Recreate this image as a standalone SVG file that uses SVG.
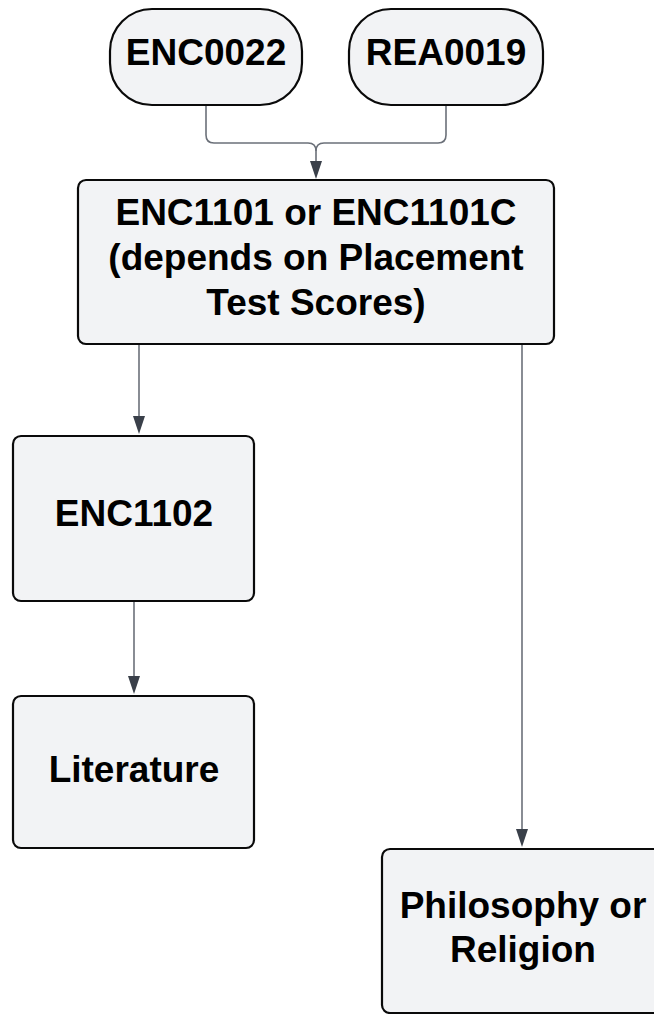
<svg xmlns="http://www.w3.org/2000/svg" width="654" height="1014" viewBox="0 0 654 1014">
<style>
.node{fill:#f2f3f5;stroke:#0a0a0a;stroke-width:2.2}
.lbl{font-family:"Liberation Sans",Arial,sans-serif;font-weight:bold;font-size:37px;fill:#000;text-anchor:middle}
.conn{fill:none;stroke:#6b7079;stroke-width:1.6}
.head{fill:#3a404a}
</style>
<rect width="654" height="1014" fill="#fff"/>
<g id="connectors">
<path class="conn" d="M206,105 V135 Q206,143 214,143 H308 Q316,143 316,151 V162"/>
<path class="conn" d="M446,105 V135 Q446,143 438,143 H324 Q316,143 316,151"/>
<path class="conn" d="M139,345 V418"/>
<path class="conn" d="M134,601 V678"/>
<path class="conn" d="M522,345 V831"/>
<path class="head" d="M310,161 L322,161 L316,179 Z"/>
<path class="head" d="M133,416 L145,416 L139,434 Z"/>
<path class="head" d="M128,676 L140,676 L134,694 Z"/>
<path class="head" d="M516,829 L528,829 L522,847 Z"/>
</g>
<g id="enc0022">
<rect class="node" x="110" y="9" width="192" height="96" rx="42" ry="42"/>
<text class="lbl" x="206" y="65">ENC0022</text>
</g>
<g id="rea0019">
<rect class="node" x="349" y="9" width="194" height="96" rx="42" ry="42"/>
<text class="lbl" x="446" y="65">REA0019</text>
</g>
<g id="enc1101">
<rect class="node" x="78" y="180" width="476" height="164" rx="8" ry="8"/>
<text class="lbl" x="316" y="225">ENC1101 or ENC1101C</text>
<text class="lbl" x="316" y="270">(depends on Placement</text>
<text class="lbl" x="316" y="315">Test Scores)</text>
</g>
<g id="enc1102">
<rect class="node" x="13" y="436" width="241" height="165" rx="8" ry="8"/>
<text class="lbl" x="134" y="526">ENC1102</text>
</g>
<g id="literature">
<rect class="node" x="13" y="696" width="241" height="152" rx="8" ry="8"/>
<text class="lbl" x="134" y="782">Literature</text>
</g>
<g id="philosophy">
<rect class="node" x="382" y="849" width="290" height="164" rx="8" ry="8"/>
<text class="lbl" x="523" y="918">Philosophy or</text>
<text class="lbl" x="523" y="962">Religion</text>
</g>
</svg>
